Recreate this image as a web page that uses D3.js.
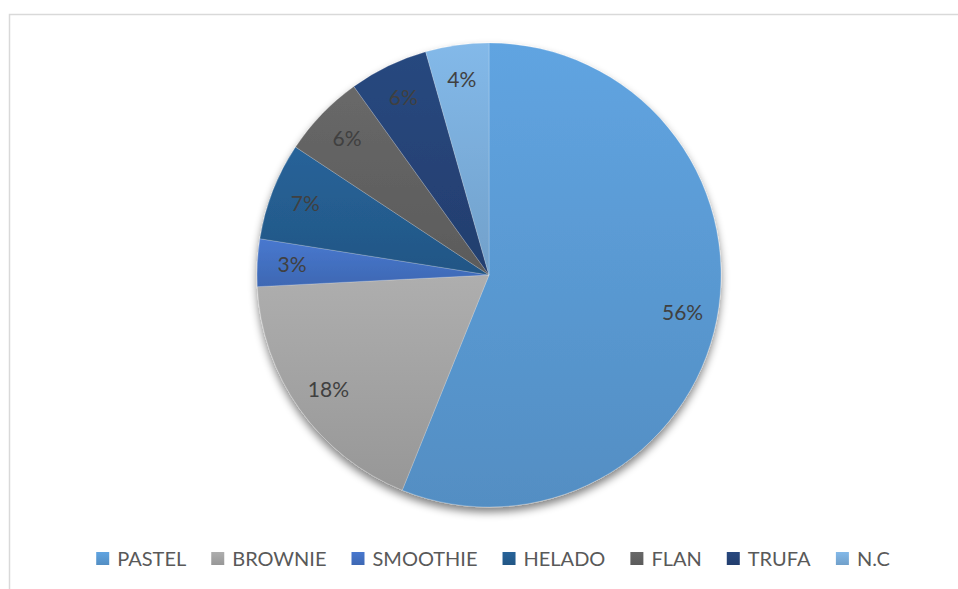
<!DOCTYPE html>
<html>
<head>
<meta charset="utf-8">
<script src="https://cdn.jsdelivr.net/npm/d3@7"></script>
<style>
  body { margin: 0; background: #fff; }
  svg { display: block; }
</style>
</head>
<body>
<script>
// data
const categories = ["PASTEL", "BROWNIE", "SMOOTHIE", "HELADO", "FLAN", "TRUFA", "N.C"];
const values = [56.1, 18.1, 3.3, 6.8, 5.8, 5.5, 4.4];
const labels = ["56%", "18%", "3%", "7%", "6%", "6%", "4%"];
const colors = ["#5b9bd5", "#a5a5a5", "#4472c4", "#255e91", "#636363", "#264478", "#7cafdd"];

const width = 958, height = 589;
const cx = 489, cy = 275, radius = 232;

const svg = d3.select("body").append("svg")
  .attr("width", width)
  .attr("height", height);

const defs = svg.append("defs");

// soft shadow under the pie
const shadow = defs.append("filter")
  .attr("id", "shadow")
  .attr("x", "-20%").attr("y", "-20%")
  .attr("width", "140%").attr("height", "140%");
shadow.append("feGaussianBlur").attr("in", "SourceAlpha").attr("stdDeviation", 4).attr("result", "blur");
shadow.append("feOffset").attr("in", "blur").attr("dx", 0).attr("dy", 5).attr("result", "off");
shadow.append("feComponentTransfer").attr("in", "off").attr("result", "sh")
  .append("feFuncA").attr("type", "linear").attr("slope", 0.5);
const merge = shadow.append("feMerge");
merge.append("feMergeNode").attr("in", "sh");
merge.append("feMergeNode").attr("in", "SourceGraphic");

// a vertical gradient for each slice, lighter at top
colors.forEach((c, i) => {
  const g = defs.append("linearGradient")
    .attr("id", "grad" + i)
    .attr("x1", 0).attr("y1", 0).attr("x2", 0).attr("y2", 1);
  g.append("stop").attr("offset", "0%").attr("stop-color", d3.color(c).brighter(0.15));
  g.append("stop").attr("offset", "100%").attr("stop-color", d3.color(c).darker(0.25));
});

// chart area border
svg.append("rect")
  .attr("x", 9.5).attr("y", 14.5)
  .attr("width", width + 20).attr("height", height + 20)
  .attr("fill", "none")
  .attr("stroke", "#d9d9d9")
  .attr("stroke-width", 1.5);

const data = categories.map((c, i) => ({ name: c, value: values[i], label: labels[i], i: i }));

const pie = d3.pie().value(d => d.value).sort(null);
const arc = d3.arc().innerRadius(0).outerRadius(radius);
const labelArc = d3.arc().innerRadius(radius * 0.85).outerRadius(radius * 0.85);

const g = svg.append("g")
  .attr("transform", "translate(" + cx + "," + cy + ")");

const slices = g.append("g").attr("filter", "url(#shadow)");
slices.selectAll("path")
  .data(pie(data))
  .enter()
  .append("path")
  .attr("d", arc)
  .attr("fill", d => "url(#grad" + d.data.i + ")")
  .attr("stroke", "rgba(255,255,255,0.4)")
  .attr("stroke-width", 0.5);

g.selectAll("text.lbl")
  .data(pie(data))
  .enter()
  .append("text")
  .attr("class", "lbl")
  .attr("transform", d => "translate(" + labelArc.centroid(d) + ")")
  .attr("text-anchor", "middle")
  .attr("dy", "0.35em")
  .attr("font-family", "Lato, 'Open Sans', sans-serif")
  .attr("font-size", 21)
  .attr("fill", "#404040")
  .text(d => d.data.label);

// legend, centred under the pie
const legend = svg.append("g").attr("font-family", "Lato, 'Open Sans', sans-serif")
  .attr("font-size", 20).attr("fill", "#595959");
const items = legend.selectAll("g")
  .data(data)
  .enter()
  .append("g");
items.append("rect")
  .attr("width", 13).attr("height", 13)
  .attr("y", -14)
  .attr("fill", d => "url(#grad" + d.i + ")");
items.append("text")
  .attr("x", 21)
  .attr("y", 0)
  .text(d => d.name);

let xs = [], pos = 0;
items.each(function(d) {
  const w = this.getBBox().width;
  xs.push(pos);
  pos += w + 25;
});
const total = pos - 25;
const startX = 493 - total / 2;
items.attr("transform", (d, i) => "translate(" + (startX + xs[i]) + ",566)");
</script>
</body>
</html>
